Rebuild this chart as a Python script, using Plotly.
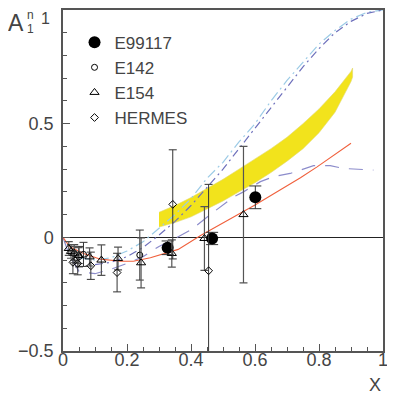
import plotly.graph_objects as go

# ---------------- data ----------------
e99117_x = [0.327, 0.466, 0.601]
e99117_y = [-0.046, -0.005, 0.176]
e99117_err = [0.03, 0.027, 0.05]

e142_x = [0.035, 0.050, 0.064, 0.240]
e142_y = [-0.072, -0.085, -0.075, -0.078]
e142_err = [0.04, 0.045, 0.053, 0.11]

e154_x = [0.018, 0.025, 0.035, 0.049, 0.083, 0.120, 0.172, 0.244, 0.340, 0.442, 0.564]
e154_y = [-0.049, -0.062, -0.070, -0.080, -0.086, -0.100, -0.093, -0.112, -0.071, -0.005, 0.100]
e154_err = [0.03, 0.03, 0.03, 0.035, 0.04, 0.067, 0.05, 0.11, 0.06, 0.14, 0.30]

hermes_x = [0.031, 0.046, 0.087, 0.169, 0.343, 0.455]
hermes_y = [-0.110, -0.115, -0.125, -0.155, 0.145, -0.147]
hermes_err = [0.05, 0.05, 0.06, 0.085, 0.24, 0.38]

band_x = [0.30, 0.35, 0.40, 0.45, 0.50, 0.55, 0.60, 0.65, 0.70, 0.75, 0.80, 0.85, 0.90, 0.905]
band_hi = [0.11, 0.14, 0.175, 0.215, 0.255, 0.30, 0.345, 0.39, 0.44, 0.50, 0.565, 0.64, 0.73, 0.745]
band_lo = [0.045, 0.065, 0.09, 0.125, 0.16, 0.20, 0.24, 0.285, 0.335, 0.39, 0.46, 0.55, 0.685, 0.705]

red_x = [0.0, 0.02, 0.064, 0.117, 0.18, 0.22, 0.273, 0.335, 0.36, 0.43, 0.50, 0.60, 0.742, 0.794, 0.90]
red_y = [0.0, -0.04, -0.071, -0.096, -0.105, -0.105, -0.09, -0.064, -0.053, 0.008, 0.063, 0.142, 0.262, 0.31, 0.414]

cyan_x = [0.05, 0.10, 0.15, 0.20, 0.25, 0.30, 0.35, 0.40, 0.45, 0.50, 0.55, 0.60, 0.65, 0.70, 0.75, 0.80, 0.85, 0.90, 0.95, 1.0]
cyan_y = [-0.09, -0.10, -0.09, -0.06, -0.02, 0.04, 0.10, 0.17, 0.26, 0.33, 0.42, 0.50, 0.60, 0.69, 0.77, 0.85, 0.91, 0.96, 0.99, 1.0]

dblue_x = [0.10, 0.15, 0.20, 0.25, 0.30, 0.35, 0.40, 0.45, 0.50, 0.55, 0.60, 0.65, 0.70, 0.75, 0.80, 0.85, 0.90, 0.95, 1.0]
dblue_y = [-0.12, -0.11, -0.085, -0.045, 0.01, 0.07, 0.14, 0.22, 0.30, 0.39, 0.48, 0.57, 0.66, 0.75, 0.83, 0.90, 0.95, 0.985, 1.0]

ldash_x = [0.0, 0.02, 0.05, 0.10, 0.15, 0.20, 0.25, 0.30, 0.35, 0.40, 0.46, 0.533, 0.564, 0.617, 0.658, 0.71, 0.742, 0.783, 0.835, 0.877, 0.97]
ldash_y = [0.0, -0.08, -0.15, -0.16, -0.14, -0.115, -0.085, -0.04, -0.005, 0.033, 0.10, 0.178, 0.20, 0.245, 0.267, 0.281, 0.296, 0.315, 0.315, 0.303, 0.296]

x_ticks = [0, 0.2, 0.4, 0.6, 0.8, 1]
x_labels = ["0", "0.2", "0.4", "0.6", "0.8", "1"]
y_ticks = [-0.5, 0, 0.5, 1]
y_labels = ["\u22120.5", "0", "0.5", "1"]

fig = go.Figure()

# yellow band
fig.add_trace(go.Scatter(x=band_x + band_x[::-1], y=band_hi + band_lo[::-1],
                         fill="toself", fillcolor="#F2E31C", line=dict(width=0.6, color="#E0D870"),
                         mode="lines", showlegend=False, hoverinfo="skip"))

fig.add_trace(go.Scatter(x=cyan_x, y=cyan_y, mode="lines", showlegend=False,
                         line=dict(color="#9CCBE6", width=1.2, dash="10px,4px,2px,4px")))
fig.add_trace(go.Scatter(x=dblue_x, y=dblue_y, mode="lines", showlegend=False,
                         line=dict(color="#6E70BC", width=1.2, dash="8px,4px,2px,4px")))
fig.add_trace(go.Scatter(x=ldash_x, y=ldash_y, mode="lines", showlegend=False,
                         line=dict(color="#8C8CCB", width=1.2, dash="14px,10px")))
fig.add_trace(go.Scatter(x=red_x, y=red_y, mode="lines", showlegend=False,
                         line=dict(color="#F0603C", width=1.1)))

errc = "#333333"
fig.add_trace(go.Scatter(x=e99117_x, y=e99117_y, mode="markers", name="E99117",
                         marker=dict(symbol="circle", size=12, color="black"),
                         error_y=dict(type="data", array=e99117_err, color=errc, thickness=1, width=6)))
fig.add_trace(go.Scatter(x=e142_x, y=e142_y, mode="markers", name="E142",
                         marker=dict(symbol="circle-open", size=6, color="black", line=dict(width=1)),
                         error_y=dict(type="data", array=e142_err, color=errc, thickness=1, width=4)))
fig.add_trace(go.Scatter(x=e154_x, y=e154_y, mode="markers", name="E154",
                         marker=dict(symbol="triangle-up-open", size=8, color="black", line=dict(width=1)),
                         error_y=dict(type="data", array=e154_err, color="#555555", thickness=1.2, width=4)))
fig.add_trace(go.Scatter(x=hermes_x, y=hermes_y, mode="markers", name="HERMES",
                         marker=dict(symbol="diamond-open", size=6, color="black", line=dict(width=1)),
                         error_y=dict(type="data", array=hermes_err, color=errc, thickness=1, width=4)))

font = "Liberation Sans"
# the page body has an 8px margin, so the figure is 387x387 to fill the 395px window
fig.update_layout(
    width=387, height=387,
    margin=dict(l=55, r=12, t=2, b=44),
    paper_bgcolor="white", plot_bgcolor="white",
    font=dict(family=font, size=17, color="#444444"),
    legend=dict(x=0.036, y=0.957, xanchor="left", yanchor="top", bgcolor="rgba(0,0,0,0)",
                font=dict(size=17, color="#444444"), tracegroupgap=0, itemwidth=30),
    xaxis=dict(range=[0, 1], tickvals=x_ticks, ticktext=x_labels,
               ticks="inside", ticklen=7, tickcolor="#555", showgrid=False, zeroline=False,
               showline=True, linecolor="#555", linewidth=1.5, mirror=True, automargin=False,
               ticklabelstandoff=-8,
               minor=dict(dtick=0.05, ticks="inside", ticklen=4, tickcolor="#555", showgrid=False),
               tickfont=dict(size=18, color="#444")),
    # the top label ("1") is drawn as an annotation below, since the axis would hide it at the edge
    yaxis=dict(range=[-0.5, 1], tickvals=y_ticks, ticktext=y_labels[:-1] + [""],
               ticks="inside", ticklen=7, tickcolor="#555", showgrid=False,
               zeroline=True, zerolinecolor="#222", zerolinewidth=1, automargin=False,
               showline=True, linecolor="#555", linewidth=1.5, mirror=True,
               ticklabelstandoff=4,
               minor=dict(dtick=0.1, ticks="inside", ticklen=4, tickcolor="#555", showgrid=False),
               tickfont=dict(size=18, color="#444")),
)

fig.add_annotation(text=y_labels[-1], xref="paper", yref="paper", x=-0.054, y=1, yshift=2,
                   showarrow=False, font=dict(size=16, color="#444"), xanchor="center", yanchor="top")
fig.add_annotation(text="X", xref="paper", yref="paper", x=0.976, y=-0.1, showarrow=False,
                   font=dict(size=18, color="#444"), xanchor="center", yanchor="middle")
fig.add_annotation(text="A", xref="paper", yref="paper", x=-0.146, y=0.962, showarrow=False,
                   font=dict(size=23, color="#444"), xanchor="center", yanchor="middle")
fig.add_annotation(text="n", xref="paper", yref="paper", x=-0.101, y=0.985, showarrow=False,
                   font=dict(size=12, color="#444"), xanchor="center", yanchor="middle")
fig.add_annotation(text="1", xref="paper", yref="paper", x=-0.102, y=0.944, showarrow=False,
                   font=dict(size=12, color="#444"), xanchor="center", yanchor="middle")

fig.write_html("out.html")
